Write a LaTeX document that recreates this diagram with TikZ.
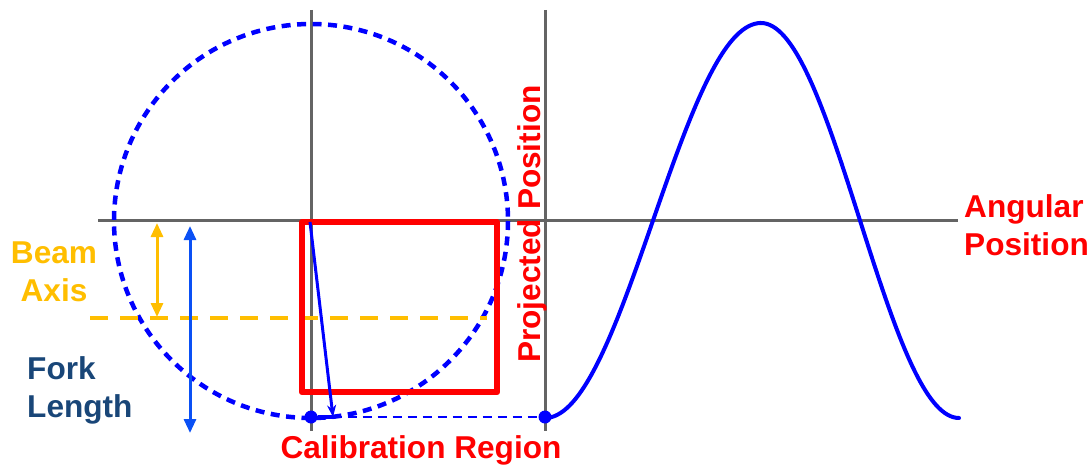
\documentclass[tikz,border=0pt]{standalone}
\usepackage{fontspec}
\setmainfont{Liberation Sans}
\usetikzlibrary{arrows.meta}
\definecolor{axisgray}{RGB}{100,100,100}
\definecolor{pureblue}{RGB}{0,0,255}
\definecolor{forkblue}{RGB}{10,80,245}
\definecolor{beamorange}{RGB}{255,190,0}
\definecolor{navy}{RGB}{25,70,120}
\definecolor{pured}{RGB}{255,0,0}
\tikzset{
  axisline/.style={draw=axisgray, line width=3pt},
  circdash/.style={draw=pureblue, line width=4.5pt, dash pattern=on 9pt off 6.5pt},
  projdash/.style={draw=pureblue, line width=2pt, dash pattern=on 9pt off 6pt},
  beamdash/.style={draw=beamorange, line width=4.5pt, dash pattern=on 18pt off 12pt},
  dblarrow/.style={line width=3pt, {Triangle[width=12pt,length=14pt]}-{Triangle[width=12pt,length=14pt]}},
  lbl/.style={font=\fontsize{31.6}{38}\selectfont\bfseries, inner sep=0pt},
  dotnode/.style={circle, fill=pureblue, minimum size=13pt, inner sep=0pt},
  wave/.style={draw=pureblue, line width=4pt, line cap=round},
}
\begin{document}
\begin{tikzpicture}[x=1pt,y=-1pt]
\useasboundingbox (0,0) rectangle (1091,468);
% axes
\coordinate (hL) at (98,220);
\coordinate (hR) at (958,220);
\coordinate (v1T) at (311,10);
\coordinate (v1B) at (311,431);
\coordinate (v2T) at (545,10);
\coordinate (v2B) at (545,431);
\draw[axisline] (hL) -- (hR);
\draw[axisline] (v1T) -- (v1B);
\draw[axisline] (v2T) -- (v2B);
% dashed circle
\coordinate (C) at (311,221);
\draw[circdash] (C) circle[radius=197];
% beam axis dashed line
\coordinate (bL) at (90,318);
\coordinate (bR) at (487,318);
\draw[beamdash] (bL) -- (bR);
% calibration rectangle
\draw[draw=pured, line width=6.5pt, line join=round] (302,222) rectangle (497,392);
% dots
\node[dotnode] (d1) at (311,417) {};
\node[dotnode] (d2) at (545,417) {};
\draw[projdash] (d1) -- (d2);
% fork line
\coordinate (ftop) at (310,222);
\coordinate (fbot) at (333,417);
\draw[pureblue, line width=3pt, -{Stealth[width=9pt,length=12pt]}] (ftop) -- (fbot);
\draw[pureblue, line width=3.5pt] (d1) -- (fbot);
% sine curve (two halves)
\draw[wave] plot[domain=0:180, samples=70, smooth] ({545+1.2*\x}, {220.5+197.5*cos(\x)})
  -- plot[domain=180:360, samples=70, smooth] ({761+1.1*(\x-180)}, {220.5+197.5*cos(\x)});
% beam axis arrow
\coordinate (baT) at (157,223);
\coordinate (baB) at (157,317);
\draw[dblarrow, beamorange] (baT) -- (baB);
% fork length arrow
\coordinate (flT) at (190,226);
\coordinate (flB) at (190,433);
\draw[dblarrow, forkblue] (flT) -- (flB);
% labels
\node[lbl, text=beamorange, align=center] (beam) at (54,272) {Beam\\Axis};
\node[lbl, text=navy, align=left, anchor=west] (fork) at (27,390) {Fork\\Length};
\node[lbl, text=pured] (calib) at (421,450) {Calibration Region};
\node[lbl, text=pured, rotate=90] (proj) at (532,224) {Projected Position};
\node[lbl, text=pured, align=left, anchor=west] (ang) at (964,225) {Angular\\Position};
\end{tikzpicture}
\end{document}
